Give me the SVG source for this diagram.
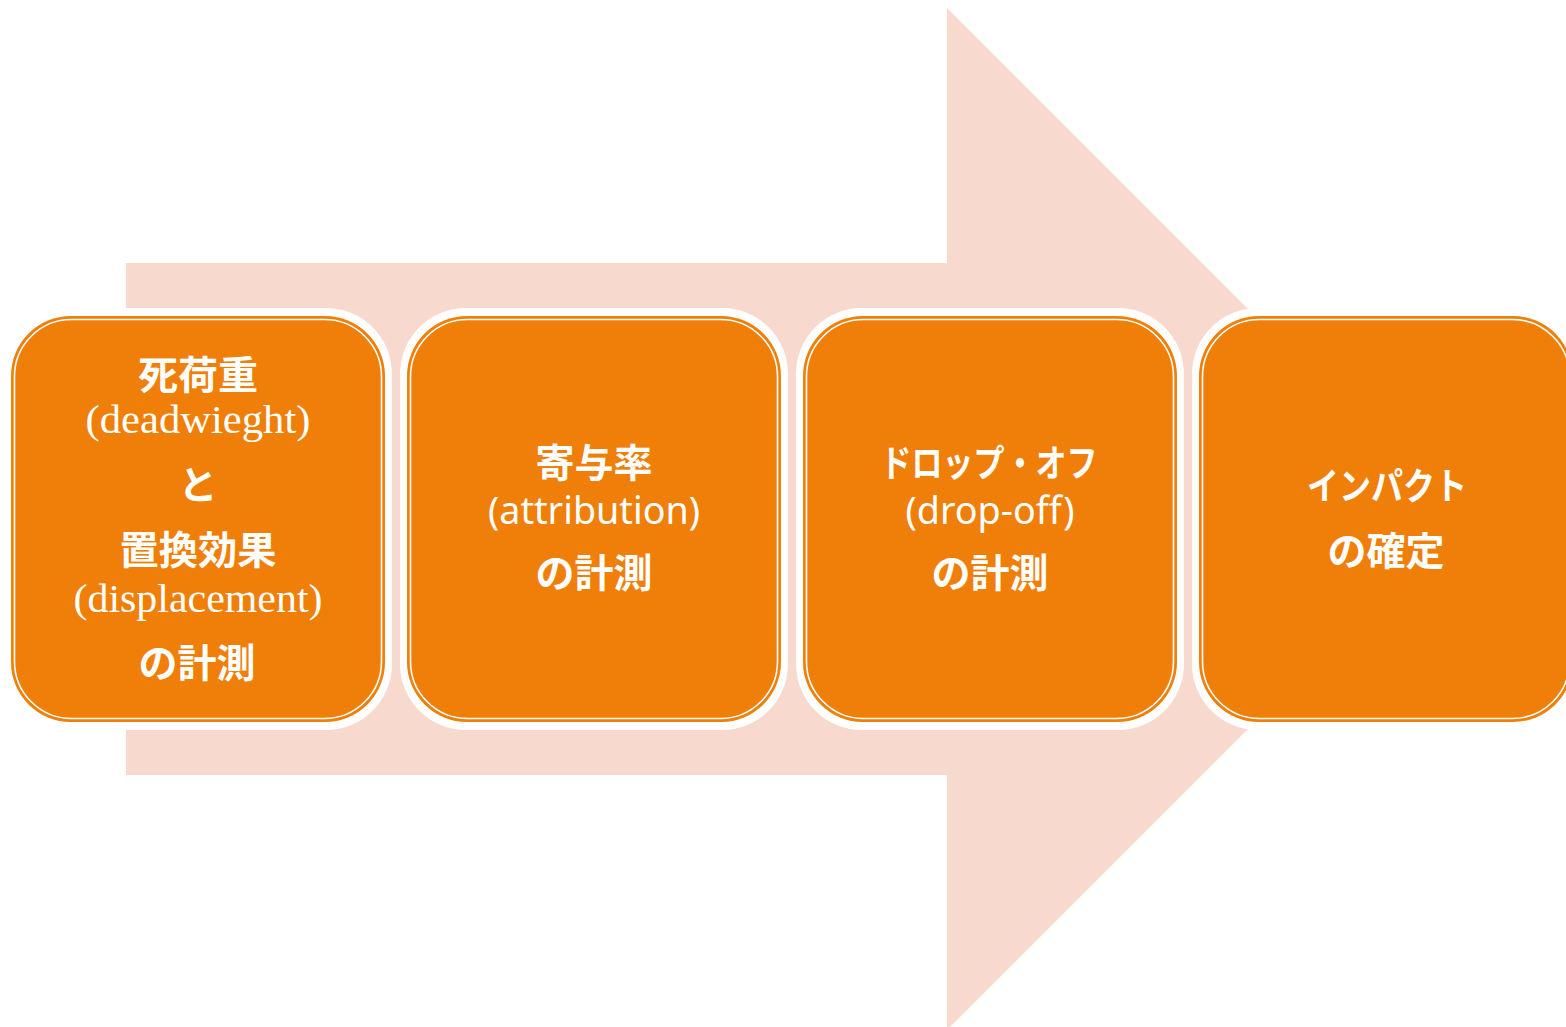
<svg xmlns="http://www.w3.org/2000/svg" width="1566" height="1027" viewBox="0 0 1566 1027">
<style>
.halo{fill:#FFFFFF;}
.box{fill:#F07F09;}
.inner{fill:none;stroke:#FFFFFF;stroke-width:1.6;}
.jp{font-family:"Noto Sans CJK JP","Noto Sans CJK SC",sans-serif;font-weight:700;fill:#FFFFFF;text-anchor:middle;}
.ser{font-family:"Liberation Serif",serif;fill:#FFFFFF;text-anchor:middle;}
.san{font-family:"Noto Sans","Open Sans",sans-serif;fill:#FFFFFF;text-anchor:middle;}
</style>
<rect width="1566" height="1027" fill="#FFFFFF"/>
<g id="connectors">
<polygon points="126,263 947,263 947,8 1458,519 947,1030 947,775 126,775" fill="#F8D9CD"/>
</g>
<g id="node1">
<rect class="halo" x="4" y="308" width="388" height="422" rx="66"/>
<rect class="box" x="11" y="316" width="374" height="406" rx="60"/>
<rect class="inner" x="14.5" y="319.5" width="367" height="399" rx="57"/>
<text class="jp" x="198" y="389" font-size="39" textLength="120" lengthAdjust="spacingAndGlyphs">死荷重</text>
<text class="ser" x="198" y="433" font-size="41" textLength="225" lengthAdjust="spacingAndGlyphs">(deadwieght)</text>
<text class="jp" x="198" y="499" font-size="39">と</text>
<text class="jp" x="198" y="564" font-size="39" textLength="157" lengthAdjust="spacingAndGlyphs">置換効果</text>
<text class="ser" x="198" y="612" font-size="41" textLength="249" lengthAdjust="spacingAndGlyphs">(displacement)</text>
<text class="jp" x="197" y="677" font-size="39" textLength="117" lengthAdjust="spacingAndGlyphs">の計測</text>
</g>
<g id="node2">
<rect class="halo" x="400" y="308" width="388" height="422" rx="66"/>
<rect class="box" x="407" y="316" width="374" height="406" rx="60"/>
<rect class="inner" x="410.5" y="319.5" width="367" height="399" rx="57"/>
<text class="jp" x="594" y="477" font-size="39" textLength="117" lengthAdjust="spacingAndGlyphs">寄与率</text>
<text class="san" x="594" y="524" font-size="38" textLength="212" lengthAdjust="spacingAndGlyphs">(attribution)</text>
<text class="jp" x="594" y="587" font-size="39" textLength="117" lengthAdjust="spacingAndGlyphs">の計測</text>
</g>
<g id="node3">
<rect class="halo" x="796" y="308" width="388" height="422" rx="66"/>
<rect class="box" x="803" y="316" width="374" height="406" rx="60"/>
<rect class="inner" x="806.5" y="319.5" width="367" height="399" rx="57"/>
<text class="jp" x="989" y="477" font-size="37" textLength="217" lengthAdjust="spacingAndGlyphs">ドロップ・オフ</text>
<text class="san" x="990" y="524" font-size="38" textLength="169" lengthAdjust="spacingAndGlyphs">(drop-off)</text>
<text class="jp" x="990" y="587" font-size="39" textLength="117" lengthAdjust="spacingAndGlyphs">の計測</text>
</g>
<g id="node4">
<rect class="halo" x="1192" y="308" width="388" height="422" rx="66"/>
<rect class="box" x="1199" y="316" width="374" height="406" rx="60"/>
<rect class="inner" x="1202.5" y="319.5" width="367" height="399" rx="57"/>
<text class="jp" x="1387" y="500" font-size="37" textLength="160" lengthAdjust="spacingAndGlyphs">インパクト</text>
<text class="jp" x="1386" y="565" font-size="39" textLength="117" lengthAdjust="spacingAndGlyphs">の確定</text>
</g>
</svg>
